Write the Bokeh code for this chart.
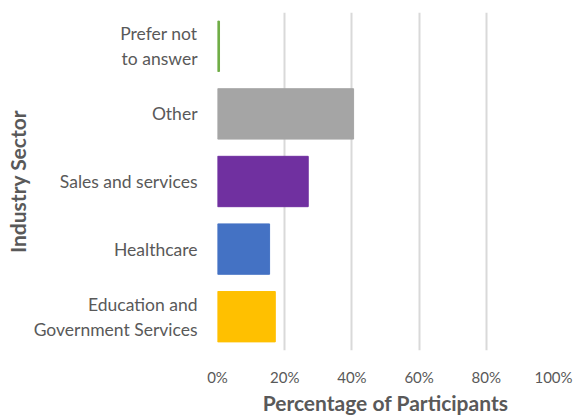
from bokeh.plotting import figure
from bokeh.models import Range1d, FixedTicker, NumeralTickFormatter, ColumnDataSource
from bokeh.embed import file_html
from bokeh.resources import INLINE

categories = ["Education and\nGovernment Services", "Healthcare", "Sales and services", "Other", "Prefer not\nto answer"]
values = [0.172, 0.155, 0.27, 0.405, 0.006]
colors = ["#FFC000", "#4472C4", "#7030A0", "#A5A5A5", "#70AD47"]
x_ticks = [0, 0.2, 0.4, 0.6, 0.8, 1.0]

FONT = "Lato"
TXT = "#595959"

src = ColumnDataSource(dict(y=list(range(len(categories))), v=values, c=colors))

p = figure(width=574, height=417, output_backend="svg", toolbar_location=None,
           x_range=Range1d(0, 1.0), y_range=Range1d(-0.5, len(categories) - 0.5),
           min_border_left=217, min_border_right=21, min_border_top=12, min_border_bottom=65)
p.outline_line_color = None
p.background_fill_color = "white"
p.border_fill_color = "white"

p.hbar(y="y", left=0, right="v", height=0.745, color="c", source=src)

p.xgrid.ticker = FixedTicker(ticks=x_ticks)
p.xgrid.grid_line_color = "#D9D9D9"
p.xgrid.grid_line_width = 2
p.ygrid.grid_line_color = None

xa = p.xaxis[0]
xa.ticker = FixedTicker(ticks=x_ticks)
xa.formatter = NumeralTickFormatter(format="0%")
xa.axis_line_color = None
xa.major_tick_line_color = None
xa.minor_tick_line_color = None
xa.major_tick_out = 0
xa.minor_tick_out = 0
xa.major_label_standoff = 17
xa.major_label_text_font = FONT
xa.major_label_text_font_size = "15px"
xa.major_label_text_color = TXT
xa.axis_label = "Percentage of Participants"
xa.axis_label_text_font = FONT
xa.axis_label_text_font_size = "21px"
xa.axis_label_text_font_style = "bold"
xa.axis_label_text_color = TXT
xa.axis_label_standoff = 1

ya = p.yaxis[0]
ya.ticker = FixedTicker(ticks=list(range(len(categories))))
ya.major_label_overrides = {i: c for i, c in enumerate(categories)}
ya.axis_line_color = None
ya.major_tick_line_color = None
ya.minor_tick_line_color = None
ya.major_tick_out = 0
ya.minor_tick_out = 0
ya.major_label_standoff = 20
ya.major_label_text_font = FONT
ya.major_label_text_font_size = "17.5px"
ya.major_label_text_color = TXT
ya.major_label_text_align = "center"
ya.axis_label = "Industry Sector"
ya.axis_label_text_font = FONT
ya.axis_label_text_font_size = "21px"
ya.axis_label_text_font_style = "bold"
ya.axis_label_text_color = TXT
ya.axis_label_standoff = 1

open("out.html", "w").write(file_html(p, INLINE))
